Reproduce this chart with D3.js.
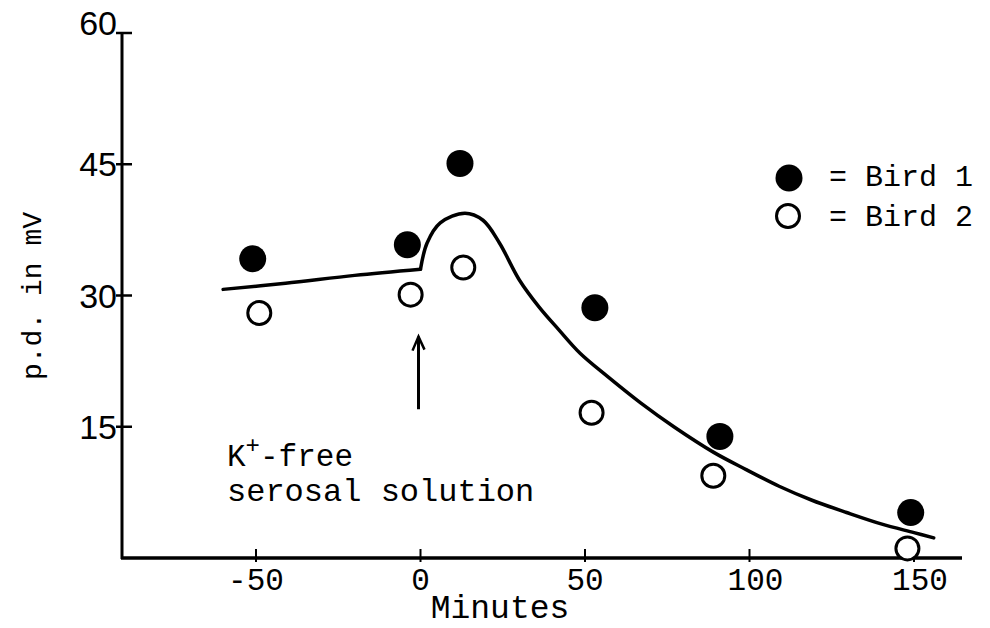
<!DOCTYPE html>
<html>
<head>
<meta charset="utf-8">
<script src="https://cdn.jsdelivr.net/npm/d3@7"></script>
<style>
	body { margin: 0; background: #fff; }
	svg { display: block; }
	.mono { font-family: "Liberation Mono", "DejaVu Sans Mono", monospace; fill: #000; }
	.hand { font-family: "Liberation Sans", "DejaVu Sans", sans-serif; fill: #000; }
</style>
</head>
<body>
<svg id="chart" width="990" height="628"></svg>
<script>
// values (minutes, mV)
var xTicks = [-50, 0, 50, 100, 150];
var yTicks = [15, 30, 45, 60];

var bird1Min = [-51, -4, 12, 53, 91, 149];
var bird1Mv = [34.2, 35.8, 45.1, 28.6, 13.9, 5.2];

var bird2Min = [-49, -3, 13, 52, 89, 148];
var bird2Mv = [28.0, 30.1, 33.2, 16.6, 9.4, 1.1];

// hand drawn curve, split at the change of solution (t = 0)
var curveBeforeMin = [-60, -41, -20, 0];
var curveBeforeMv = [30.7, 31.4, 32.3, 33.0];
var curveAfterMin = [0, 2, 6, 13.5, 19, 24, 30, 36, 42, 48.5, 57, 67, 77, 89, 99, 109, 119, 129.5, 140, 150, 156];
var curveAfterMv = [33.0, 36.0, 38.3, 39.4, 38.6, 36.0, 31.8, 28.7, 26.1, 23.4, 20.7, 17.7, 15.0, 12.1, 10.1, 8.2, 6.6, 5.2, 3.9, 2.9, 2.3];

var arrowMin = 0;
var arrowFromMv = 17;
var arrowToMv = 25.3;

var svg = d3.select("#chart");

var x = d3.scaleLinear()
	.domain([-50, 150])
	.range([256, 914]);

var y = d3.scaleLinear()
	.domain([0, 60])
	.range([558, 33]);

var g = svg.append("g");

// axes, drawn by hand like the original
g.append("line")
	.attr("x1", 122).attr("x2", 122)
	.attr("y1", y(60)).attr("y2", y(0) + 1)
	.attr("stroke", "#000").attr("stroke-width", 3);

g.append("line")
	.attr("x1", 121).attr("x2", 962)
	.attr("y1", y(0)).attr("y2", y(0))
	.attr("stroke", "#000").attr("stroke-width", 3.5);

g.selectAll(".ytick")
	.data(yTicks).enter().append("line")
	.attr("class", "ytick")
	.attr("x1", 116).attr("x2", 132)
	.attr("y1", function(d) { return y(d); })
	.attr("y2", function(d) { return y(d); })
	.attr("stroke", "#000").attr("stroke-width", 2.5);

g.selectAll(".ylab")
	.data(yTicks).enter().append("text")
	.attr("class", "ylab hand")
	.attr("x", 117)
	.attr("y", function(d) { return y(d); })
	.attr("dy", function(d) { return d == 60 ? "0.05em" : "0.36em"; })
	.attr("text-anchor", "end")
	.style("font-size", "34px")
	.style("font-weight", "300")
	.text(function(d) { return d; });

g.selectAll(".xtick")
	.data(xTicks).enter().append("line")
	.attr("class", "xtick")
	.attr("x1", function(d) { return x(d); })
	.attr("x2", function(d) { return x(d); })
	.attr("y1", y(0) - 9).attr("y2", y(0) + 4)
	.attr("stroke", "#000").attr("stroke-width", 2);

g.selectAll(".xlab")
	.data(xTicks).enter().append("text")
	.attr("class", "xlab mono")
	.attr("x", function(d) { return x(d) + (d > 50 ? 6 : 0); })
	.attr("y", 590)
	.attr("text-anchor", "middle")
	.style("font-size", "31px")
	.text(function(d) { return d; });

g.append("text")
	.attr("class", "mono")
	.attr("x", 500)
	.attr("y", 618)
	.attr("text-anchor", "middle")
	.style("font-size", "33px")
	.text("Minutes");

g.append("text")
	.attr("class", "mono")
	.attr("transform", "translate(41,296) rotate(-90)")
	.attr("text-anchor", "middle")
	.style("font-size", "28px")
	.text("p.d. in mV");

// fitted curve
var line = d3.line()
	.x(function(d) { return x(d[0]); })
	.y(function(d) { return y(d[1]); })
	.curve(d3.curveCatmullRom.alpha(0.5));

g.append("path")
	.datum(d3.zip(curveBeforeMin, curveBeforeMv))
	.attr("d", line)
	.attr("fill", "none").attr("stroke", "#000").attr("stroke-width", 3.5)
	.attr("stroke-linecap", "round");

g.append("path")
	.datum(d3.zip(curveAfterMin, curveAfterMv))
	.attr("d", line)
	.attr("fill", "none").attr("stroke", "#000").attr("stroke-width", 3.5)
	.attr("stroke-linecap", "round");

// data points
g.selectAll(".bird1")
	.data(d3.zip(bird1Min, bird1Mv)).enter().append("circle")
	.attr("class", "bird1")
	.attr("cx", function(d) { return x(d[0]); })
	.attr("cy", function(d) { return y(d[1]); })
	.attr("r", 13.5)
	.attr("fill", "#000");

g.selectAll(".bird2")
	.data(d3.zip(bird2Min, bird2Mv)).enter().append("circle")
	.attr("class", "bird2")
	.attr("cx", function(d) { return x(d[0]); })
	.attr("cy", function(d) { return y(d[1]); })
	.attr("r", 11.5)
	.attr("fill", "#fff")
	.attr("stroke", "#000").attr("stroke-width", 3);

// arrow marking the solution change
var ax = x(arrowMin) - 2;
g.append("line")
	.attr("x1", ax).attr("x2", ax)
	.attr("y1", y(arrowFromMv)).attr("y2", y(arrowToMv))
	.attr("stroke", "#000").attr("stroke-width", 3);
g.append("path")
	.attr("d", "M" + (ax - 6) + "," + (y(arrowToMv) + 14) + "L" + ax + "," + y(arrowToMv) + "L" + (ax + 6) + "," + (y(arrowToMv) + 13))
	.attr("fill", "none").attr("stroke", "#000").attr("stroke-width", 2.5);

var note = g.append("text")
	.attr("class", "mono")
	.attr("x", 227)
	.attr("y", 466)
	.style("font-size", "31px");
note.append("tspan").text("K");
note.append("tspan").attr("dy", -13).style("font-size", "24px").text("+");
note.append("tspan").attr("dy", 13).text("-free");

g.append("text")
	.attr("class", "mono")
	.attr("x", 227)
	.attr("y", 501)
	.style("font-size", "32px")
	.text("serosal solution");

// legend
var legend = g.append("g").attr("transform", "translate(789,0)");
legend.append("circle")
	.attr("cx", 0).attr("cy", 178).attr("r", 13.5)
	.attr("fill", "#000");
legend.append("circle")
	.attr("cx", -1).attr("cy", 216).attr("r", 11.5)
	.attr("fill", "#fff").attr("stroke", "#000").attr("stroke-width", 3);
legend.append("text")
	.attr("class", "mono")
	.attr("x", 40).attr("y", 186)
	.style("font-size", "30px")
	.text("= Bird 1");
legend.append("text")
	.attr("class", "mono")
	.attr("x", 40).attr("y", 226)
	.style("font-size", "30px")
	.text("= Bird 2");
</script>
</body>
</html>
